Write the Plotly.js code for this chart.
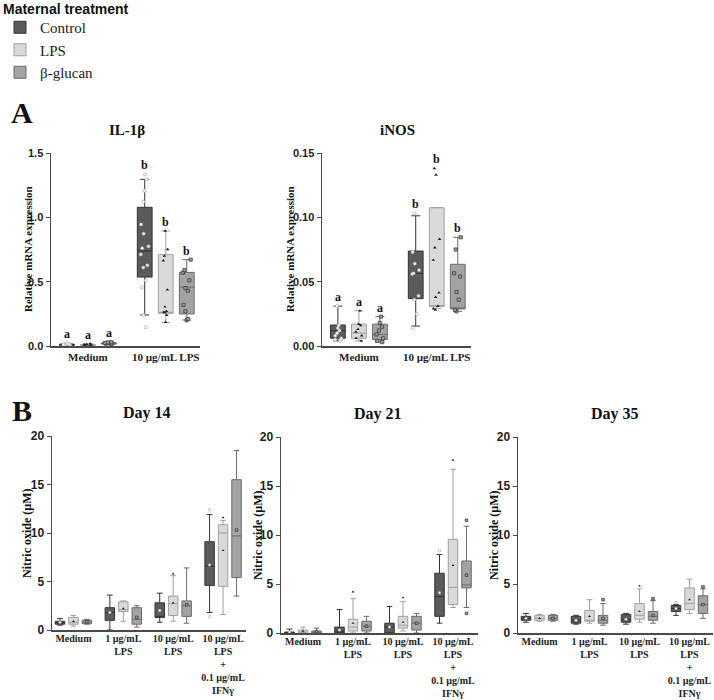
<!DOCTYPE html>
<html><head><meta charset="utf-8">
<script src="https://cdn.plot.ly/plotly-3.0.1.min.js"></script>
<style>html,body{margin:0;padding:0;background:#fff}</style>
</head><body><div id="chart" style="width:714px;height:700px"></div>
<script>
// ---------- DATA ----------
const treatments = ['Control', 'LPS', 'β-glucan'];
const aCategories = ['Medium', '10 µg/mL LPS'];
const bCategories = ['Medium', '1 µg/mL<br>LPS', '10 µg/mL<br>LPS', '10 µg/mL<br>LPS<br>+<br>0.1 µg/mL<br>IFNγ'];

// IL-1β  (rows: Control, LPS, β-glucan ; cols: Medium, 10 µg/mL LPS)
const il1bQ1  = [[0.005, 0.536], [0.004, 0.254], [0.015, 0.249]];
const il1bMed = [[0.010, 0.738], [0.008, 0.260], [0.020, 0.458]];
const il1bQ3  = [[0.015, 1.078], [0.012, 0.710], [0.025, 0.572]];
const il1bLo  = [[0.002, 0.241], [0.002, 0.181], [0.010, 0.202]];
const il1bHi  = [[0.020, 1.295], [0.018, 0.894], [0.030, 0.671]];
const il1bPts = [
  [[0.002, 0.005, 0.008, 0.010, 0.012, 0.015, 0.020],
   [1.334, 1.295, 1.207, 1.121, 0.945, 0.873, 0.775, 0.760, 0.712, 0.627, 0.610, 0.510, 0.456, 0.241, 0.145]],
  [[0.003, 0.006, 0.008, 0.010, 0.013, 0.018],
   [0.894, 0.751, 0.700, 0.663, 0.437, 0.305, 0.270, 0.264, 0.260, 0.240, 0.185]],
  [[0.012, 0.018, 0.020, 0.024, 0.028, 0.030],
   [0.671, 0.590, 0.570, 0.510, 0.450, 0.430, 0.320, 0.270, 0.210, 0.200]]
];
const il1bLetters = [['a', 'b'], ['a', 'b'], ['a', 'b']];

// iNOS
const inosQ1  = [[0.006, 0.0368], [0.006, 0.0306], [0.005, 0.0288]];
const inosMed = [[0.012, 0.0565], [0.010, 0.0310], [0.009, 0.0290]];
const inosQ3  = [[0.0163, 0.0738], [0.017, 0.1075], [0.017, 0.0635]];
const inosLo  = [[0.004, 0.0155], [0.004, 0.0290], [0.003, 0.0270]];
const inosHi  = [[0.031, 0.1012], [0.0274, 0.1075], [0.0228, 0.0845]];
const inosPts = [
  [[0.031, 0.016, 0.014, 0.012, 0.010, 0.008, 0.006, 0.005, 0.004],
   [0.103, 0.073, 0.064, 0.059, 0.0565, 0.056, 0.039, 0.036, 0.025, 0.014]],
  [[0.0274, 0.017, 0.016, 0.013, 0.011, 0.008, 0.006, 0.004],
   [0.138, 0.133, 0.083, 0.0764, 0.0668, 0.0414, 0.038, 0.031, 0.029, 0.028]],
  [[0.0228, 0.018, 0.015, 0.012, 0.009, 0.006, 0.004, 0.003],
   [0.0845, 0.075, 0.0565, 0.054, 0.042, 0.036, 0.028, 0.027]]
];
const inosLetters = [['a', 'b'], ['a', 'b'], ['a', 'b']];

// Nitric oxide, Day 14 (cols: Medium, 1 LPS, 10 LPS, 10 LPS + IFNγ)
const d14Q1  = [[0.60, 1.00, 1.30, 4.60], [0.60, 1.90, 1.50, 4.50], [0.65, 0.60, 1.40, 5.40]];
const d14Med = [[0.75, 1.80, 1.40, 6.60], [0.80, 2.10, 2.70, 10.00], [0.80, 1.10, 2.50, 9.70]];
const d14Q3  = [[0.90, 2.30, 2.80, 9.10], [1.30, 2.90, 3.50, 10.85], [1.00, 2.30, 3.00, 15.50]];
const d14Lo  = [[0.50, 0.00, 0.80, 1.80], [0.40, 0.90, 0.90, 1.60], [0.60, 0.30, 0.70, 3.50]];
const d14Hi  = [[1.20, 3.60, 3.80, 11.90], [1.50, 3.00, 5.60, 11.30], [1.10, 2.50, 6.40, 18.50]];
const d14Pts = [
  [[0.80], [1.80], [2.00], [6.70, 12.40, 1.40]],
  [[0.90], [2.20], [2.80, 5.80], [8.20, 11.60]],
  [[0.85], [1.30], [2.60], [10.30]]
];

// Day 21
const d21Q1  = [[0.00, 0.00, 0.00, 1.70], [0.00, 0.20, 0.50, 2.90], [0.00, 0.20, 0.30, 4.60]];
const d21Med = [[0.05, 0.20, 0.60, 3.70], [0.10, 0.60, 0.80, 4.66], [0.10, 0.70, 1.00, 4.90]];
const d21Q3  = [[0.10, 0.60, 1.00, 6.10], [0.30, 1.40, 1.70, 9.56], [0.20, 1.20, 1.70, 7.35]];
const d21Lo  = [[0.00, 0.00, 0.00, 1.00], [0.00, 0.00, 0.20, 2.60], [0.00, 0.00, 0.00, 2.60]];
const d21Hi  = [[0.40, 2.40, 2.70, 8.00], [0.60, 3.50, 3.20, 16.70], [0.50, 1.70, 2.00, 10.90]];
const d21Pts = [
  [[0.10], [0.30], [0.60], [4.10, 8.40]],
  [[0.20], [1.00, 4.20], [1.10, 3.60], [6.90, 17.65]],
  [[0.15], [0.70], [1.00], [5.90, 11.50, 2.00]]
];

// Day 35
const d35Q1  = [[1.30, 1.00, 1.10, 2.20], [1.30, 1.20, 1.40, 2.40], [1.30, 1.00, 1.30, 2.00]];
const d35Med = [[1.50, 1.30, 1.40, 2.50], [1.50, 1.30, 1.80, 3.00], [1.50, 1.30, 1.70, 2.90]];
const d35Q3  = [[1.70, 1.70, 1.90, 2.80], [1.80, 2.30, 3.00, 4.60], [1.80, 1.80, 2.20, 3.80]];
const d35Lo  = [[1.10, 0.90, 0.90, 1.80], [1.20, 1.00, 1.10, 2.00], [1.20, 0.80, 1.00, 1.50]];
const d35Hi  = [[2.00, 1.80, 2.00, 2.90], [1.90, 3.40, 4.50, 5.50], [1.90, 3.00, 3.30, 4.50]];
const d35Pts = [
  [[1.50], [1.30], [1.40], [2.50, 3.10]],
  [[1.50], [1.70], [2.20, 4.80], [3.40]],
  [[1.50], [1.50, 3.40], [1.80, 3.50], [2.90, 4.70]]
];

// ---------- STYLE ----------
const fills = ['#5b5b5b', '#d9d9d9', '#a3a3a3'];
const lineCols = ['#333333', '#a0a0a0', '#6b6b6b'];
const markers = [
  {symbol: 'circle', color: '#ffffff', line: {color: '#999', width: 0.6}},
  {symbol: 'triangle-up', color: '#222222', line: {width: 0}},
  {symbol: 'square', color: '#9a9a9a', line: {color: '#333', width: 0.7}}
];
const offsets = [-0.27, 0, 0.27];

const traces = [];
const annotations = [];

function addPanel(q1, med, q3, lo, hi, pts, xa, ya, boxW, jitter, ptSize, letters) {
  treatments.forEach((t, k) => {
    const xs = q1[k].map((_, i) => i + offsets[k]);
    traces.push({
      type: 'box', name: t, legendgroup: t, showlegend: traces.length < 3,
      xaxis: xa, yaxis: ya,
      x: xs, q1: q1[k], median: med[k], q3: q3[k],
      lowerfence: lo[k], upperfence: hi[k],
      y: pts[k],
      boxpoints: 'all', jitter: jitter, pointpos: 0,
      width: boxW, whiskerwidth: 0.6,
      fillcolor: fills[k], line: {color: lineCols[k], width: 1},
      marker: Object.assign({}, markers[k], {size: ptSize}),
      hoverinfo: 'skip'
    });
    if (letters) {
      xs.forEach((x, i) => {
        const top = Math.max(hi[k][i], ...pts[k][i]);
        annotations.push({xref: xa, yref: ya, x: x, y: top, yanchor: 'bottom', yshift: 0,
          text: '<b>' + letters[k][i] + '</b>', showarrow: false,
          font: {family: 'Liberation Serif', size: 12, color: '#111'}});
      });
    }
  });
}

addPanel(il1bQ1, il1bMed, il1bQ3, il1bLo, il1bHi, il1bPts, 'x', 'y', 0.19, 0.6, 3.2, il1bLetters);
addPanel(inosQ1, inosMed, inosQ3, inosLo, inosHi, inosPts, 'x2', 'y2', 0.19, 0.6, 3.2, inosLetters);
addPanel(d14Q1, d14Med, d14Q3, d14Lo, d14Hi, d14Pts, 'x3', 'y3', 0.19, 0, 2.6, null);
addPanel(d21Q1, d21Med, d21Q3, d21Lo, d21Hi, d21Pts, 'x4', 'y4', 0.19, 0, 2.6, null);
addPanel(d35Q1, d35Med, d35Q3, d35Lo, d35Hi, d35Pts, 'x5', 'y5', 0.19, 0, 2.6, null);

function yAx(domain, range, dtick, fmt, anchor, fs) {
  return {domain: domain, range: range, dtick: dtick, tick0: 0, tickformat: fmt, anchor: anchor,
    showline: true, linecolor: '#4a4a4a', linewidth: 1.5, ticks: 'outside', ticklen: 4,
    tickwidth: 1, tickcolor: '#4a4a4a', showgrid: false, zeroline: false,
    tickfont: {family: 'Liberation Sans', size: fs, color: '#222', weight: 'bold'}, fixedrange: true};
}
function xAx(domain, range, cats, anchor, fs, standoff) {
  return {domain: domain, range: range, tickvals: cats.map((_, i) => i), ticktext: cats, anchor: anchor,
    showline: true, linecolor: '#4a4a4a', linewidth: 1.5, ticks: '', showgrid: false, zeroline: false,
    ticklabelstandoff: standoff,
    tickfont: {family: 'Liberation Serif', size: fs, color: '#222', weight: 'bold'}, tickangle: 0, fixedrange: true};
}
const P = (px) => px / 714, Q = (py) => 1 - py / 700;

function pAnn(text, x, y, size, family, angle, xanchor) {
  annotations.push({xref: 'paper', yref: 'paper', x: x, y: y, xanchor: xanchor || 'center', yanchor: 'middle',
    text: text, showarrow: false, textangle: angle || 0,
    font: {family: family, size: size, color: '#111'}});
}
pAnn('<b>Maternal treatment</b>', P(1), Q(9), 14, 'Liberation Sans', 0, 'left');
pAnn('<b>A</b>', P(22), Q(112), 30, 'Liberation Serif');
pAnn('<b>B</b>', P(22), Q(410), 30, 'Liberation Serif');
pAnn('<b>IL-1β</b>', P(127), Q(130), 15, 'Liberation Serif');
pAnn('<b>iNOS</b>', P(397), Q(130), 15, 'Liberation Serif');
pAnn('<b>Day 14</b>', P(147), Q(413), 16, 'Liberation Serif');
pAnn('<b>Day 21</b>', P(378), Q(414), 16, 'Liberation Serif');
pAnn('<b>Day 35</b>', P(615), Q(414), 16, 'Liberation Serif');
pAnn('<b>Relative mRNA expression</b>', P(28), Q(249), 11, 'Liberation Serif', -90);
pAnn('<b>Relative mRNA expression</b>', P(290), Q(249), 11, 'Liberation Serif', -90);
pAnn('<b>Nitric oxide (µM)</b>', P(27), Q(533), 12, 'Liberation Serif', -90);
pAnn('<b>Nitric oxide (µM)</b>', P(258), Q(535), 12, 'Liberation Serif', -90);
pAnn('<b>Nitric oxide (µM)</b>', P(494), Q(535), 12, 'Liberation Serif', -90);

const layout = {
  width: 714, height: 700, margin: {l: 0, r: 0, t: 0, b: 0},
  paper_bgcolor: '#fff', plot_bgcolor: 'rgba(0,0,0,0)',
  boxmode: 'overlay', showlegend: true,
  legend: {x: 0, y: Q(11), xanchor: 'left', yanchor: 'top', bgcolor: 'rgba(0,0,0,0)',
    font: {family: 'Liberation Serif', size: 15, color: '#222'}, tracegroupgap: 0, itemwidth: 30},
  xaxis:  xAx([P(51), P(200)], [-0.474, 1.44], aCategories, 'y', 11, 0),
  yaxis:  yAx([Q(346), Q(153)], [0, 1.5], 0.5, '.1f', 'x', 11),
  xaxis2: xAx([P(322), P(471)], [-0.474, 1.44], aCategories, 'y2', 11, 0),
  yaxis2: yAx([Q(346), Q(153)], [0, 0.15], 0.05, '.2f', 'x2', 11),
  xaxis3: xAx([P(52), P(246)], [-0.43, 3.46], bCategories, 'y3', 10, -2),
  yaxis3: yAx([Q(630), Q(436)], [0, 20], 5, 'd', 'x3', 12),
  xaxis4: xAx([P(281), P(478)], [-0.44, 3.5], bCategories, 'y4', 10, -2),
  yaxis4: yAx([Q(633), Q(437)], [0, 20], 5, 'd', 'x4', 12),
  xaxis5: xAx([P(518), P(713)], [-0.43, 3.47], bCategories, 'y5', 10, -2),
  yaxis5: yAx([Q(633), Q(437)], [0, 20], 5, 'd', 'x5', 12),
  annotations: annotations
};

Plotly.newPlot('chart', traces, layout, {displayModeBar: false, staticPlot: true});
</script></body></html>
